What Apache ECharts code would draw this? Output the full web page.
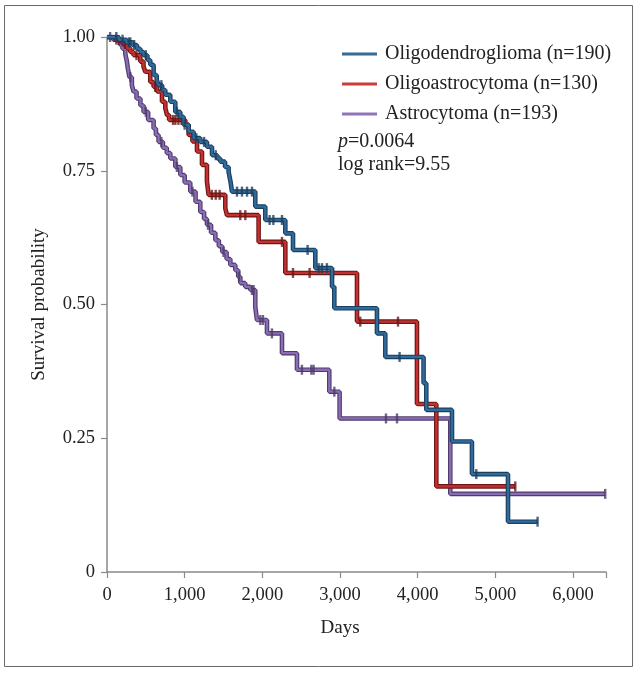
<!DOCTYPE html>
<html>
<head>
<meta charset="utf-8">
<script src="https://cdn.jsdelivr.net/npm/echarts@6/dist/echarts.min.js"></script>
<style>
html,body{margin:0;padding:0;background:#fff;}
#chart{width:638px;height:673px;}
</style>
</head>
<body>
<div id="chart"></div>
<script>
// ---- data ----
const seriesNames = ['Oligodendroglioma (n=190)', 'Oligoastrocytoma (n=130)', 'Astrocytoma (n=193)'];
const xTicks = [0, 1000, 2000, 3000, 4000, 5000, 6000];
const yTicks = [0, 0.25, 0.5, 0.75, 1];

// Kaplan-Meier steps: [day, survival from that day on]
const oligodendroSteps = [
  [0,1.00],[150,0.995],[250,0.99],[330,0.985],[386,0.978],[430,0.972],[471,0.966],[520,0.957],
  [557,0.948],[600,0.929],[640,0.92],[664,0.910],[710,0.901],[751,0.892],[815,0.879],[879,0.860],
  [944,0.851],[986,0.836],[1051,0.823],[1115,0.811],[1201,0.804],[1287,0.795],[1352,0.779],
  [1420,0.773],[1459,0.767],[1520,0.757],[1566,0.748],[1590,0.73],[1609,0.711],[1909,0.683],
  [2038,0.658],[2296,0.633],[2395,0.602],[2682,0.568],[2897,0.533],[2927,0.493],[3476,0.446],
  [3583,0.402],[4076,0.353],[4111,0.303],[4442,0.244],[4699,0.183],[5163,0.094],[5544,0.094]
];
const oligodendroCensor = [120,200,280,300,350,500,700,900,1000,1150,1250,1400,1674,1738,1803,1867,
  2094,2142,2253,2583,2725,2768,2832,3767,4755,5544];

const oligoastroSteps = [
  [0,1.00],[110,0.994],[200,0.987],[257,0.979],[300,0.972],[342,0.966],[429,0.954],[470,0.945],
  [493,0.935],[557,0.916],[600,0.907],[644,0.898],[708,0.879],[751,0.867],[773,0.854],[800,0.845],
  [1008,0.836],[1051,0.817],[1100,0.805],[1159,0.786],[1223,0.761],[1287,0.730],[1308,0.705],
  [1523,0.680],[1545,0.667],[1952,0.617],[2296,0.559],[3219,0.468],[3991,0.314],[4240,0.160],[5257,0.160]
];
const oligoastroCensor = [150,230,380,620,850,880,920,960,1350,1400,1450,1716,1781,2253,2395,2609,2910,3261,3747,5257];

const astroSteps = [
  [0,1.00],[80,0.995],[172,0.985],[200,0.978],[236,0.968],[255,0.955],[270,0.94],[290,0.925],
  [320,0.91],[342,0.898],[380,0.885],[430,0.872],[471,0.86],[530,0.845],[600,0.829],[630,0.817],
  [664,0.804],[720,0.793],[770,0.783],[815,0.773],[880,0.757],[944,0.742],[1000,0.728],[1072,0.711],
  [1140,0.692],[1201,0.673],[1250,0.66],[1287,0.649],[1340,0.634],[1395,0.62],[1440,0.609],
  [1484,0.598],[1540,0.585],[1588,0.574],[1652,0.564],[1690,0.552],[1717,0.54],[1780,0.533],
  [1845,0.527],[1909,0.496],[1931,0.471],[2060,0.446],[2253,0.409],[2446,0.378],[2862,0.337],
  [2995,0.287],[4420,0.146],[6415,0.146]
];
const astroCensor = [40,120,300,500,700,900,1100,1300,1500,1700,1867,1888,1974,2008,2124,2510,2631,2660,2927,3592,3734,6415];

const pText = '0.0064';
const logRankText = 'log rank=9.55';

// ---- styling ----
const FONT = '"Liberation Serif", "DejaVu Serif", serif';
const fillColors = ['#2f6c9e', '#c6302f', '#8b6db5'];
const edgeColors = ['#1d3f5e', '#6a1818', '#4d3d6c'];
const legendColors = ['#356b95', '#d03a3a', '#8e74ba'];

function survAt(steps, t) {
  let s = steps[0][1];
  for (const p of steps) { if (p[0] <= t) s = p[1]; else break; }
  return s;
}

const groups = [
  {name: seriesNames[0], steps: oligodendroSteps, cens: oligodendroCensor},
  {name: seriesNames[1], steps: oligoastroSteps, cens: oligoastroCensor},
  {name: seriesNames[2], steps: astroSteps, cens: astroCensor}
];
const drawOrder = [2, 1, 0];
const series = [];
drawOrder.forEach((gi, k) => {
  const g = groups[gi];
  series.push({
    name: 'edge' + gi, type: 'line', step: 'end', data: g.steps, showSymbol: false,
    lineStyle: {color: edgeColors[gi], width: 4.6}, z: 2 + k * 3, silent: true, animation: false
  });
  series.push({
    name: g.name, type: 'line', step: 'end', data: g.steps, showSymbol: false,
    itemStyle: {color: legendColors[gi]},
    lineStyle: {color: fillColors[gi], width: 2.3}, z: 3 + k * 3, animation: false
  });
  series.push({
    name: 'cens' + gi, type: 'scatter', data: g.cens.map(t => [t, survAt(g.steps, t)]),
    symbol: 'rect', symbolSize: [2.4, 10], itemStyle: {color: edgeColors[gi]},
    z: 4 + k * 3, silent: true, animation: false
  });
});

const chart = echarts.init(document.getElementById('chart'));
chart.setOption({
  animation: false,
  backgroundColor: '#fff',
  grid: {left: 107, right: 32, top: 37, bottom: 101, containLabel: false},
  xAxis: {
    type: 'value', min: 0, max: 6425, interval: 1000,
    axisLine: {show: true, onZero: false, lineStyle: {color: '#8a8a8a', width: 1.5}},
    axisTick: {show: true, length: 6, lineStyle: {color: '#8a8a8a', width: 1.2}},
    splitLine: {show: false},
    axisLabel: {
      margin: 14, color: '#222', fontFamily: FONT, fontSize: 18.5,
      formatter: v => (xTicks.indexOf(v) >= 0 ? v.toLocaleString('en-US') : '')
    }
  },
  yAxis: {
    type: 'value', min: 0, max: 1, interval: 0.25,
    name: 'Survival probability', nameLocation: 'middle', nameGap: 58,
    nameTextStyle: {color: '#222', fontFamily: FONT, fontSize: 19},
    axisLine: {show: true, lineStyle: {color: '#8a8a8a', width: 1.5}},
    axisTick: {show: true, length: 6, lineStyle: {color: '#8a8a8a', width: 1.2}},
    splitLine: {show: false},
    axisLabel: {
      margin: 12, color: '#222', fontFamily: FONT, fontSize: 18.5,
      formatter: v => (yTicks.indexOf(v) >= 0 ? (v === 0 ? '0' : v.toFixed(2)) : '')
    }
  },
  legend: {
    data: seriesNames.map((n, i) => ({name: n, icon: 'rect', itemStyle: {color: legendColors[i]}})),
    orient: 'vertical', left: 337, top: 39, itemWidth: 35, itemHeight: 3, itemGap: 10,
    textStyle: {color: '#222', fontFamily: FONT, fontSize: 20, padding: [0, 0, 0, 3]},
    selectedMode: false
  },
  graphic: [
    {type: 'rect', shape: {x: 4.5, y: 5.5, width: 628, height: 661},
     style: {fill: 'none', stroke: '#6a6a6a', lineWidth: 1}, silent: true},
    {type: 'text', left: 338, top: 132,
     style: {rich: {i: {fontStyle: 'italic', fontFamily: FONT, fontSize: 20, fill: '#222'},
                    n: {fontFamily: FONT, fontSize: 20, fill: '#222'}},
             text: '{i|p}{n|=' + pText + '}'}},
    {type: 'text', left: 338, top: 155,
     style: {text: logRankText, font: '20px ' + FONT, fill: '#222'}},
    {type: 'text', x: 340, y: 628,
     style: {text: 'Days', font: '19px ' + FONT, fill: '#222', align: 'center', verticalAlign: 'middle'}}
  ],
  series: series
});
</script>
</body>
</html>
